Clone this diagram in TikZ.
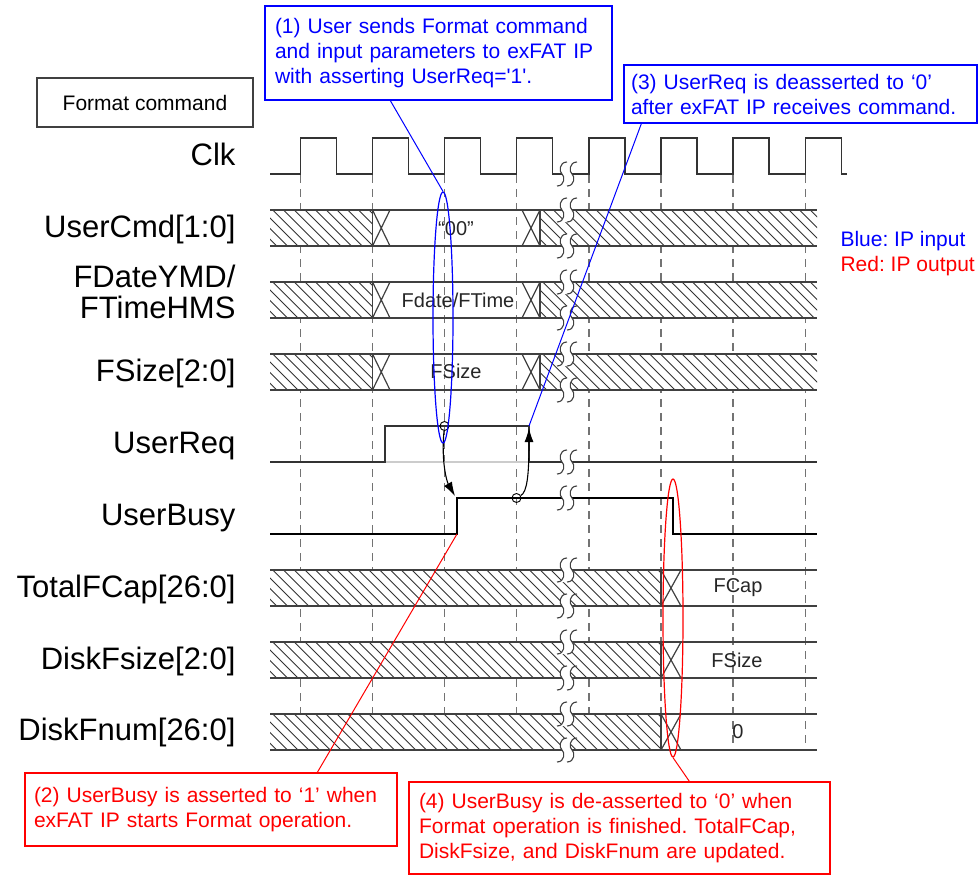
\documentclass[tikz,border=0pt]{standalone}
\usepackage{fontspec}
\setmainfont{Liberation Sans}
\usetikzlibrary{arrows.meta, shapes.geometric, calc}
\frenchspacing

\tikzset{
  wave/.style={line width=1.3pt, black!80},
  busline/.style={line width=1.2pt, black!75},
  hatch/.style={line width=0.9pt, black!80},
  guide/.style={dash pattern=on 8pt off 6pt, line width=1.2pt, black!55},
  sig/.style={anchor=base east, font=\fontsize{31}{31.5}\selectfont},
  val/.style={font=\fontsize{20}{22}\selectfont, text=black!85},
  note/.style={draw, line width=1.3pt, align=left, inner ysep=0pt,
    font=\fontsize{21}{25}\selectfont},
  bluenote/.style={note, draw=blue, text=blue},
  rednote/.style={note, draw=red, text=red},
  cause/.style={-{Latex[length=14pt, width=9pt]}, line width=1.1pt},
}

% hatched (don't care) bus section: x from, x to, top edge
\newcommand{\hatchbox}[3]{%
  \begin{scope}
    \clip (#1,#3) rectangle (#2,#3+36);
    \fill[white] (#1,#3) rectangle (#2,#3+36);
    \foreach \hx in {0,10.7,...,440}
      \draw[hatch] (#1-40+\hx,#3) -- ++(36,36);
  \end{scope}}

% time break mark at (x,y)
\newcommand{\wavebreak}[2]{%
  \fill[white] (#1,#2-12) .. controls (#1-8,#2-12) and (#1-8,#2-2) .. (#1-5,#2)
    .. controls (#1-2,#2+2) and (#1-2,#2+12) .. (#1-10,#2+12) -- (#1,#2+12)
    .. controls (#1+8,#2+12) and (#1+8,#2+2) .. (#1+5,#2)
    .. controls (#1+2,#2-2) and (#1+2,#2-12) .. (#1+10,#2-12) -- cycle;
  \draw[line width=1.1pt, black!75]
    (#1,#2-12) .. controls (#1-8,#2-12) and (#1-8,#2-2) .. (#1-5,#2)
    .. controls (#1-2,#2+2) and (#1-2,#2+12) .. (#1-10,#2+12)
    (#1+10,#2-12) .. controls (#1+2,#2-12) and (#1+2,#2-2) .. (#1+5,#2)
    .. controls (#1+8,#2+2) and (#1+8,#2+12) .. (#1,#2+12);}

\begin{document}
\begin{tikzpicture}[x=1pt, y=-1pt]
    \useasboundingbox (0,0) rectangle (979,875);
    % Define parameters
    \def\brkx{567}
    \def\tend{817}

    % Signal names
    \node[sig] (clk) at (239,165) {Clk};
    \node[sig] (cmd) at (239,237) {UserCmd[1:0]};
    \node[sig] (fdate) at (239,287) {FDateYMD/};
    \node[sig] (ftime) at (239,318) {FTimeHMS};
    \node[sig] (fsize) at (239,381) {FSize[2:0]};
    \node[sig] (req) at (239,453) {UserReq};
    \node[sig] (busy) at (239,525) {UserBusy};
    \node[sig] (tcap) at (239,597) {TotalFCap[26:0]};
    \node[sig] (dsize) at (239,669) {DiskFsize[2:0]};
    \node[sig] (dnum) at (239,740) {DiskFnum[26:0]};

    % Vertical lines for alignment
    \foreach \x in {300.5,372.5,444.5,516.5,589,661,733,805.5} {
        \draw[guide] (\x,175) -- (\x,750);
    }

    % Clock
    \draw[wave] (270,174) foreach \x in {300.5,372.5,444.5,516.5,589,661,733,805.5} {
        -- (\x,174) -- (\x,138) -- (\x+36,138) -- (\x+36,174) } -- (847,174);

    % Input buses
    \foreach \top in {210,282,354} {
        \hatchbox{270}{372.5}{\top}
        \hatchbox{540}{\tend}{\top}
        \draw[busline] (270,\top) -- (\tend,\top) (270,\top+36) -- (\tend,\top+36);
        \draw[busline] (372.5,\top) -- (372.5,\top+36) (540,\top) -- (540,\top+36);
        \draw[busline] (372.5,\top) -- (390,\top+36) (372.5,\top+36) -- (390,\top);
        \draw[busline] (522,\top) -- (540,\top+36) (522,\top+36) -- (540,\top);
    }
    \node[val] (cmdval) at (456,229) {``00''};
    \node[val] (timeval) at (458,300) {Fdate/FTime};
    \node[val] (sizeval) at (456,371) {FSize};

    % Output buses
    \foreach \top in {570,642,714} {
        \hatchbox{270}{661}{\top}
        \draw[busline] (270,\top) -- (\tend,\top) (270,\top+36) -- (\tend,\top+36);
        \draw[busline] (661,\top) -- (661,\top+36);
        \draw[busline] (661,\top) -- (681,\top+36) (661,\top+36) -- (681,\top);
    }
    \node[val] (capval) at (738,588) {FCap};
    \node[val] (dsizeval) at (737,660) {FSize};
    \node[val] (dnumval) at (738,732) {0};

    % UserReq
    \draw[line width=1.2pt, black!20] (385,462) -- (529,462);
    \draw[wave] (270,462) -- (385,462) -- (385,426) -- (529,426) -- (529,462) -- (\tend,462);

    % UserBusy
    \draw[wave, black] (270,534) -- (457,534) -- (457,498) -- (673,498) -- (673,534) -- (\tend,534);

    % Breaks
    \foreach \y in {174,210,246,282,318,354,390,462,498,570,606,642,678,714,750} {
        \wavebreak{\brkx}{\y}
    }

    % Handshake
    \coordinate (busyrise) at (457,534);
    \coordinate (busytop) at (455,496);
    \coordinate (reqfall) at (529,426);
    \coordinate (reqfallend) at (529,428);
    \node[circle, draw, line width=0.9pt, inner sep=0pt, minimum size=9pt] (reqdot) at (444.5,426) {};
    \node[circle, draw, line width=0.9pt, inner sep=0pt, minimum size=9pt] (busydot) at (516.5,498) {};
    \draw[cause] (reqdot) .. controls (441,462) and (447,482) .. (busytop);
    \draw[cause] (busydot) .. controls (527,492) and (529,476) .. (reqfallend);

    % Marks
    \node[ellipse, draw=blue, line width=1.2pt, inner sep=0pt,
        minimum width=20pt, minimum height=251pt] (reqmark) at (443,317.5) {};
    \node[ellipse, draw=red, line width=1.2pt, inner sep=0pt,
        minimum width=20pt, minimum height=278pt] (donemark) at (673,618) {};

    % Notes
    \node[draw=black!75, line width=1.2pt, minimum width=216pt, minimum height=49pt,
        font=\fontsize{21}{25}\selectfont] (title) at (145,102.5) {Format command};
    \node[bluenote, text width=327pt, inner xsep=10pt, minimum height=94pt] (note1) at (438.5,53)
        {(1) User sends Format command\\and input parameters to exFAT IP\\with asserting UserReq=\textquotesingle1\textquotesingle.};
    \node[bluenote, text width=339pt, inner xsep=7pt, minimum height=58pt] (note3) at (800.5,94)
        {(3) UserReq is deasserted to `0'\\after exFAT IP receives command.};
    \node[rednote, text width=354pt, inner xsep=9pt, minimum height=73pt] (note2) at (211,809.5)
        {(2) UserBusy is asserted to `1' when\\exFAT IP starts Format operation.};
    \node[rednote, text width=401pt, inner xsep=10pt, minimum height=92pt] (note4) at (619.5,828)
        {(4) UserBusy is de-asserted to `0' when\\Format operation is finished. TotalFCap,\\DiskFsize, and DiskFnum are updated.};

    \draw[blue, line width=1pt] ($(note1.south west)+(126,0)$) -- (reqmark.north);
    \draw[blue, line width=1pt] ($(note3.south west)+(18,0)$) -- (reqfall);
    \draw[red, line width=1pt] (busyrise) -- ($(note2.north west)+(293,0)$);
    \draw[red, line width=1pt] (donemark.south) -- ($(note4.north west)+(281,0)$);

    % Legend
    \node[anchor=west, text=blue, font=\fontsize{21}{25}\selectfont] (legin) at (837,241) {Blue: IP input};
    \node[anchor=west, text=red, font=\fontsize{21}{25}\selectfont] (legout) at (837,266) {Red: IP output};
\end{tikzpicture}
\end{document}
